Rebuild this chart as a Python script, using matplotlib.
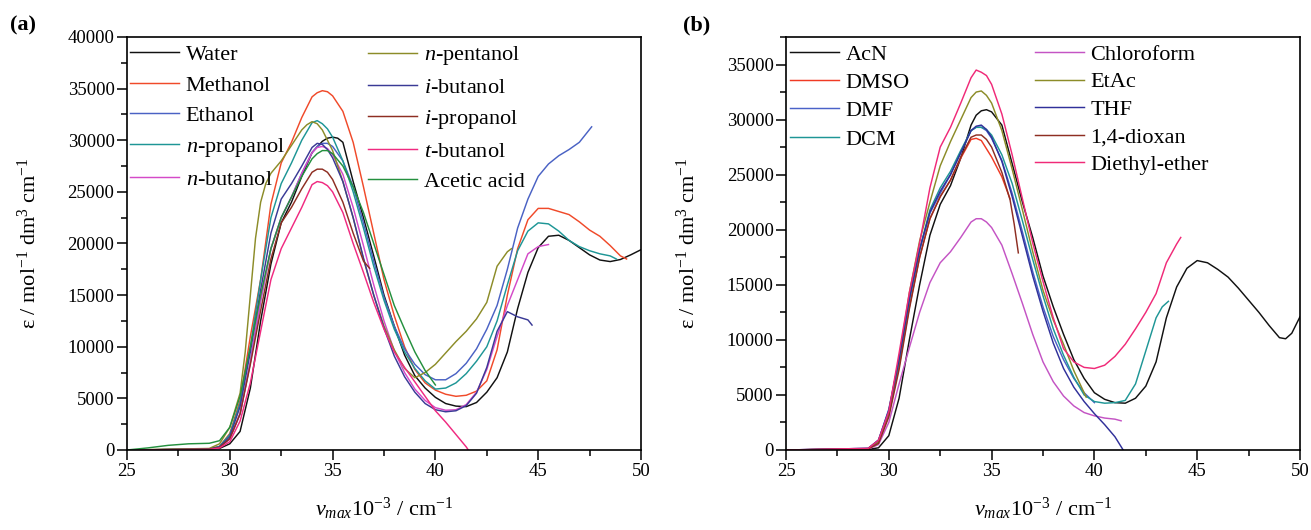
import matplotlib
matplotlib.use("Agg")
import matplotlib.pyplot as plt
from matplotlib.ticker import MultipleLocator

plt.rcParams['font.family'] = ['Liberation Serif', 'DejaVu Serif']
plt.rcParams['mathtext.fontset'] = 'custom'
plt.rcParams['mathtext.rm'] = 'Liberation Serif'
plt.rcParams['mathtext.it'] = 'Liberation Serif:italic'
plt.rcParams['mathtext.bf'] = 'Liberation Serif:bold'

# ---------------- Panel (a): alcohols / water / acetic acid ----------------
water_x = [25, 28, 29, 29.5, 30, 30.5, 31, 31.5, 32, 32.5, 33, 33.5, 34, 34.5, 34.75, 35, 35.25, 35.5, 36, 36.5, 37, 37.5, 38, 38.5, 39, 39.5, 40, 40.5, 41, 41.5, 42, 42.5, 43, 43.5, 44, 44.5, 45, 45.5, 46, 46.5, 47, 47.5, 48, 48.5, 49, 49.5, 50]
water_y = [0, 50, 100, 150, 600, 1800, 6000, 12500, 18000, 22000, 24000, 26500, 28800, 29900, 30200, 30300, 30200, 29800, 26000, 22500, 18800, 15000, 12000, 9200, 7200, 6000, 5100, 4500, 4250, 4200, 4600, 5600, 7000, 9500, 13700, 17200, 19600, 20700, 20800, 20300, 19600, 18900, 18400, 18250, 18450, 18900, 19400]

methanol_x = [25, 29, 29.5, 30, 30.5, 31, 31.5, 32, 32.5, 33, 33.5, 34, 34.25, 34.5, 34.75, 35, 35.5, 36, 36.5, 37, 37.5, 38, 38.5, 39, 39.5, 40, 40.5, 41, 41.5, 42, 42.5, 43, 43.5, 44, 44.5, 45, 45.5, 46, 46.5, 47, 47.5, 48, 48.5, 49, 49.3]
methanol_y = [0, 100, 350, 1600, 4800, 11000, 16500, 23800, 27800, 29800, 32200, 34200, 34600, 34800, 34700, 34300, 32800, 29800, 25500, 21000, 16500, 13000, 10000, 7800, 6500, 5800, 5400, 5200, 5300, 5700, 6700, 9700, 15000, 19500, 22300, 23400, 23400, 23100, 22800, 22100, 21300, 20700, 19800, 18800, 18500]

ethanol_x = [25, 29, 29.5, 30, 30.5, 31, 31.5, 32, 32.5, 33, 33.5, 34, 34.25, 34.5, 34.75, 35, 35.5, 36, 36.5, 37, 37.5, 38, 38.5, 39, 39.5, 40, 40.5, 41, 41.5, 42, 42.5, 43, 43.5, 44, 44.5, 45, 45.5, 46, 46.5, 47, 47.6]
ethanol_y = [0, 80, 250, 1100, 3500, 8500, 14500, 19500, 22500, 24500, 26800, 28800, 29400, 29700, 29700, 29400, 28000, 25500, 22000, 18300, 14800, 12000, 9800, 8300, 7300, 6800, 6800, 7400, 8400, 9800, 11700, 14000, 17500, 21500, 24300, 26500, 27700, 28500, 29100, 29800, 31300]

npropanol_x = [25, 29, 29.5, 30, 30.5, 31, 31.5, 32, 32.5, 33, 33.5, 34, 34.25, 34.5, 34.75, 35, 35.5, 36, 36.5, 37, 37.5, 38, 38.5, 39, 39.5, 40, 40.5, 41, 41.5, 42, 42.5, 43, 43.5, 44, 44.5, 45, 45.5, 46, 46.5, 47, 47.5, 48, 48.5, 48.8]
npropanol_y = [0, 100, 350, 1500, 4500, 10000, 16500, 22500, 25800, 27800, 30000, 31700, 31900, 31600, 31100, 30300, 28000, 25000, 21500, 17800, 14500, 11700, 9500, 7900, 6700, 5900, 6000, 6500, 7400, 8600, 10000, 12500, 16000, 19300, 21200, 22000, 21900, 21200, 20300, 19700, 19300, 19000, 18800, 18500]

nbutanol_x = [25, 29, 29.5, 30, 30.5, 31, 31.5, 32, 32.5, 33, 33.5, 34, 34.25, 34.5, 34.75, 35, 35.5, 36, 36.5, 37, 37.5, 38, 38.5, 39, 39.5, 40, 40.5, 41, 41.5, 42, 42.5, 43, 43.5, 44, 44.5, 45, 45.5]
nbutanol_y = [0, 60, 250, 1100, 3500, 8500, 14500, 19500, 22500, 24500, 26800, 28800, 29300, 29400, 29200, 28600, 26700, 23500, 19800, 16000, 12500, 9600, 7500, 5900, 4800, 4100, 3850, 3900, 4400, 5600, 7800, 11000, 14000, 16500, 19000, 19700, 19900]

npentanol_x = [25, 29, 29.5, 30, 30.5, 30.75, 31, 31.25, 31.5, 31.75, 32, 32.5, 33, 33.5, 33.75, 34, 34.25, 34.5, 35, 35.5, 36, 36.5, 37, 37.5, 38, 38.5, 39, 39.5, 40, 40.5, 41, 41.5, 42, 42.5, 43, 43.5, 43.7]
npentanol_y = [0, 150, 600, 2200, 5500, 9500, 15000, 20500, 24000, 25800, 26800, 28000, 29500, 31000, 31500, 31800, 31600, 31000, 29000, 26000, 22500, 18500, 15000, 12000, 9700, 7900, 7000, 7500, 8300, 9400, 10500, 11500, 12700, 14300, 17800, 19200, 19500]

ibutanol_x = [25, 29, 29.5, 30, 30.5, 31, 31.5, 32, 32.5, 33, 33.5, 34, 34.25, 34.5, 34.75, 35, 35.5, 36, 36.5, 37, 37.5, 38, 38.5, 39, 39.5, 40, 40.5, 41, 41.5, 42, 42.5, 43, 43.5, 44, 44.5, 44.7]
ibutanol_y = [0, 80, 300, 1300, 4200, 9500, 15500, 21000, 24300, 25800, 27500, 29300, 29700, 29600, 29100, 28300, 26000, 22500, 18600, 15000, 11800, 9100, 7100, 5600, 4500, 3900, 3700, 3800, 4300, 5500, 8000, 11500, 13400, 12900, 12600, 12100]

ipropanol_x = [25, 29, 29.5, 30, 30.5, 31, 31.5, 32, 32.5, 33, 33.5, 34, 34.25, 34.5, 34.75, 35, 35.5, 36, 36.5, 36.8]
ipropanol_y = [0, 70, 250, 1100, 3500, 8300, 13500, 18500, 22000, 23500, 25300, 26900, 27200, 27200, 26900, 26200, 24000, 21000, 18300, 17600]

tbutanol_x = [25, 29, 29.5, 30, 30.5, 31, 31.5, 32, 32.5, 33, 33.5, 34, 34.25, 34.5, 34.75, 35, 35.5, 36, 36.5, 37, 37.5, 38, 38.5, 39, 39.5, 40, 40.5, 41, 41.5, 41.6]
tbutanol_y = [0, 50, 200, 800, 2800, 6500, 11500, 16500, 19500, 21500, 23500, 25700, 26000, 25900, 25600, 25000, 23000, 20000, 17200, 14300, 11700, 9500, 8000, 6600, 5200, 3800, 2700, 1500, 300, 0]

acetic_x = [25, 26, 27, 28, 29, 29.5, 30, 30.5, 31, 31.5, 32, 32.5, 33, 33.5, 34, 34.25, 34.5, 34.75, 35, 35.5, 36, 36.5, 37, 37.5, 38, 38.5, 39, 39.5, 40]
acetic_y = [0, 200, 450, 600, 650, 900, 2200, 5200, 10000, 15000, 19500, 22500, 24500, 26500, 28200, 28700, 29000, 29000, 28700, 27500, 25500, 23000, 20000, 17000, 14000, 11700, 9500, 7700, 6300]

# ---------------- Panel (b): aprotic solvents ----------------
acn_x = [25, 29, 29.5, 30, 30.5, 31, 31.5, 32, 32.5, 33, 33.5, 34, 34.25, 34.5, 34.75, 35, 35.5, 36, 36.5, 37, 37.5, 38, 38.5, 39, 39.5, 40, 40.5, 41, 41.5, 42, 42.5, 43, 43.5, 44, 44.5, 45, 45.5, 46, 46.5, 47, 47.5, 48, 48.5, 49, 49.3, 49.6, 50]
acn_y = [0, 50, 200, 1300, 4700, 10000, 15000, 19500, 22300, 24000, 26500, 29500, 30400, 30800, 30900, 30700, 29500, 26000, 22500, 19300, 15800, 13000, 10500, 8200, 6500, 5200, 4600, 4300, 4250, 4700, 5800, 8000, 12000, 14800, 16500, 17200, 17000, 16400, 15700, 14700, 13600, 12500, 11300, 10200, 10100, 10600, 12100]

dmso_x = [25, 29, 29.5, 30, 30.5, 31, 31.5, 32, 32.5, 33, 33.5, 34, 34.25, 34.5, 35, 35.5, 35.9]
dmso_y = [0, 100, 700, 3200, 7600, 13000, 17500, 21000, 23000, 24500, 26500, 28200, 28300, 28100, 26600, 24800, 22800]

dmf_x = [25, 29, 29.5, 30, 30.5, 31, 31.5, 32, 32.5, 33, 33.5, 34, 34.25, 34.5, 34.75, 35, 35.5, 36, 36.5, 37, 37.5, 38, 38.5, 39, 39.5, 40]
dmf_y = [0, 150, 900, 3700, 8300, 13800, 18200, 21500, 23300, 25000, 27000, 29000, 29300, 29300, 29000, 28300, 26300, 23300, 19800, 16200, 13000, 10300, 8200, 6500, 5200, 4300]

dcm_x = [25, 29, 29.5, 30, 30.5, 31, 31.5, 32, 32.5, 33, 33.5, 34, 34.25, 34.5, 34.75, 35, 35.5, 36, 36.5, 37, 37.5, 38, 38.5, 39, 39.5, 40, 40.5, 41, 41.5, 42, 42.5, 43, 43.3, 43.6]
dcm_y = [0, 120, 800, 3400, 8000, 13600, 18200, 21800, 23800, 25300, 27200, 29000, 29300, 29300, 29100, 28600, 26800, 24200, 20800, 17300, 14000, 11000, 8600, 6600, 5000, 4400, 4250, 4300, 4500, 6000, 9000, 12000, 13000, 13500]

chloroform_x = [25, 29, 29.5, 30, 30.5, 31, 31.5, 32, 32.5, 33, 33.5, 34, 34.25, 34.5, 34.75, 35, 35.5, 36, 36.5, 37, 37.5, 38, 38.5, 39, 39.5, 40, 40.5, 41, 41.3]
chloroform_y = [0, 80, 500, 2500, 6000, 9300, 12500, 15200, 17000, 18000, 19300, 20700, 21000, 21000, 20700, 20200, 18600, 16000, 13300, 10500, 8000, 6200, 4900, 4000, 3400, 3100, 2900, 2800, 2650]

etac_x = [25, 29, 29.5, 30, 30.5, 31, 31.5, 32, 32.5, 33, 33.5, 34, 34.25, 34.5, 34.75, 35, 35.5, 36, 36.5, 37, 37.5, 38, 38.5, 39, 39.6]
etac_y = [0, 120, 800, 3500, 8300, 14300, 19000, 22500, 25800, 28000, 30000, 32000, 32500, 32600, 32200, 31500, 29000, 25500, 21800, 18000, 14500, 11800, 9600, 7200, 4800]

thf_x = [25, 29, 29.5, 30, 30.5, 31, 31.5, 32, 32.5, 33, 33.5, 34, 34.25, 34.5, 34.75, 35, 35.5, 36, 36.5, 37, 37.5, 38, 38.5, 39, 39.5, 40, 40.5, 41, 41.4]
thf_y = [0, 150, 900, 3600, 8200, 13700, 18200, 21600, 23500, 25000, 27000, 29000, 29400, 29500, 29100, 28400, 26200, 23000, 19400, 15800, 12600, 9700, 7400, 5700, 4400, 3300, 2300, 1200, 0]

dioxan_x = [25, 29, 29.5, 30, 30.5, 31, 31.5, 32, 32.5, 33, 33.5, 34, 34.25, 34.5, 34.75, 35, 35.5, 35.9, 36.1, 36.3]
dioxan_y = [0, 100, 600, 3000, 7300, 12800, 17500, 21000, 23000, 24500, 26600, 28400, 28600, 28600, 28200, 27500, 25200, 22700, 20500, 17900]

ether_x = [25, 29, 29.5, 30, 30.5, 31, 31.5, 32, 32.5, 33, 33.5, 34, 34.25, 34.5, 34.75, 35, 35.5, 36, 36.5, 37, 37.5, 38, 38.5, 39, 39.5, 40, 40.5, 41, 41.5, 42, 42.5, 43, 43.5, 44, 44.2]
ether_y = [0, 150, 900, 3500, 8800, 14300, 18800, 23800, 27500, 29300, 31500, 33800, 34500, 34300, 34000, 33200, 30500, 26800, 22800, 18800, 15300, 12000, 9200, 8000, 7500, 7400, 7700, 8500, 9600, 11000, 12500, 14200, 17000, 18700, 19300]

labels_a = ['Water', 'Methanol', 'Ethanol', r'$n$-propanol', r'$n$-butanol',
            r'$n$-pentanol', r'$i$-butanol', r'$i$-propanol', r'$t$-butanol', 'Acetic acid']
colors_a = ['#111111', '#F04A2A', '#4A62C4', '#1E9696', '#D44AC8',
            '#8C8C28', '#3A3A96', '#8E2E22', '#F02A80', '#24903E']
labels_b = ['AcN', 'DMSO', 'DMF', 'DCM',
            'Chloroform', 'EtAc', 'THF', '1,4-dioxan', 'Diethyl-ether']
colors_b = ['#111111', '#F03A24', '#4A62C8', '#1E9696',
            '#C454C4', '#8C8C28', '#30309A', '#8E2E22', '#F02A78']

series_a = [(water_x, water_y), (methanol_x, methanol_y), (ethanol_x, ethanol_y),
            (npropanol_x, npropanol_y), (nbutanol_x, nbutanol_y), (npentanol_x, npentanol_y),
            (ibutanol_x, ibutanol_y), (ipropanol_x, ipropanol_y), (tbutanol_x, tbutanol_y),
            (acetic_x, acetic_y)]
series_b = [(acn_x, acn_y), (dmso_x, dmso_y), (dmf_x, dmf_y), (dcm_x, dcm_y),
            (chloroform_x, chloroform_y), (etac_x, etac_y), (thf_x, thf_y),
            (dioxan_x, dioxan_y), (ether_x, ether_y)]

W, H = 1311, 530
fig = plt.figure(figsize=(W / 100, H / 100), dpi=100)
ax_a = fig.add_axes([127 / W, (H - 450) / H, 514 / W, 413 / H])
ax_b = fig.add_axes([786 / W, (H - 450) / H, 514 / W, 413 / H])


def style(ax, ymax, ymajor):
    ax.set_xlim(25, 50)
    ax.set_ylim(0, ymax)
    ax.xaxis.set_major_locator(MultipleLocator(5))
    ax.xaxis.set_minor_locator(MultipleLocator(2.5))
    ax.yaxis.set_major_locator(MultipleLocator(ymajor))
    ax.yaxis.set_minor_locator(MultipleLocator(ymajor / 2))
    ax.tick_params(which='both', direction='out', top=False, right=False, labelsize=13.5, width=1.1)
    ax.tick_params(which='major', length=7, pad=2)
    ax.tick_params(which='minor', length=4)
    for s in ax.spines.values():
        s.set_linewidth(1.2)
    ax.set_xlabel(r'$\nu_{max}$10$^{-3}$ / cm$^{-1}$', fontsize=16, labelpad=12)
    ax.set_ylabel(r'ε / mol$^{-1}$ dm$^{3}$ cm$^{-1}$', fontsize=16, labelpad=19)


lines_a = []
for (x, y), c, lab in zip(series_a, colors_a, labels_a):
    ln, = ax_a.plot(x, y, color=c, lw=1.05, label=lab)
    lines_a.append(ln)
lines_b = []
for (x, y), c, lab in zip(series_b, colors_b, labels_b):
    ln, = ax_b.plot(x, y, color=c, lw=1.05, label=lab)
    lines_b.append(ln)

style(ax_a, 40000, 5000)
style(ax_b, 37500, 5000)

leg_kw = dict(frameon=False, fontsize=16, handlelength=2.2, handletextpad=0.3,
              borderpad=0, borderaxespad=0, loc='upper left')
l1 = ax_a.legend(lines_a[:5], labels_a[:5], bbox_to_anchor=(0.006, 0.982), labelspacing=0.45, **leg_kw)
ax_a.add_artist(l1)
ax_a.legend(lines_a[5:], labels_a[5:], bbox_to_anchor=(0.469, 0.982), labelspacing=0.45, **leg_kw)

l3 = ax_b.legend(lines_b[:4], labels_b[:4], bbox_to_anchor=(0.008, 0.983), labelspacing=0.35, **leg_kw)
ax_b.add_artist(l3)
ax_b.legend(lines_b[4:], labels_b[4:], bbox_to_anchor=(0.484, 0.982), labelspacing=0.31, **leg_kw)

fig.text(10 / W, 1 - 25 / H, '(a)', fontsize=16, fontweight='bold', va='center', ha='left')
fig.text(683 / W, 1 - 25 / H, '(b)', fontsize=16, fontweight='bold', va='center', ha='left')

fig.savefig('out.png', dpi=100)
